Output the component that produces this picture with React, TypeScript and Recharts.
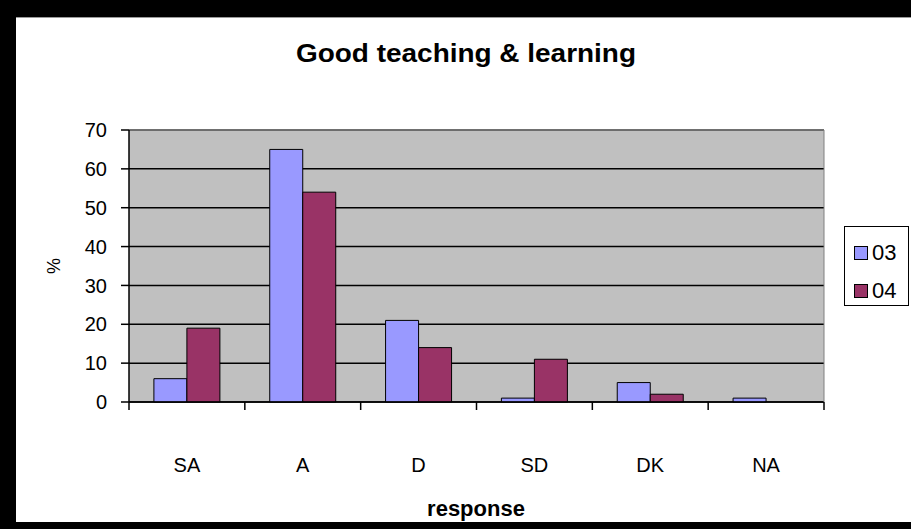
import React from 'react';
import { BarChart, Bar, XAxis, YAxis, CartesianGrid, ReferenceLine } from 'recharts';

const categories = ['SA', 'A', 'D', 'SD', 'DK', 'NA'];
const series03 = [6, 65, 21, 1, 5, 1];
const series04 = [19, 54, 14, 11, 2, 0];
const yTicks = [0, 10, 20, 30, 40, 50, 60, 70];
const seriesNames = ['03', '04'];
const seriesColors = ['#9999FF', '#993366'];
const titleText = 'Good teaching & learning';
const xLabel = 'response';
const yLabel = '%';

const data = categories.map((c, i) => ({ name: c, s03: series03[i], s04: series04[i] }));

const FONT = '"Liberation Sans", Arial, sans-serif';

function XTick(props: any) {
  const { x, y, payload, index, width } = props;
  const half = payload && typeof payload.offset === 'number' && payload.offset > 0
    ? payload.offset
    : width / categories.length / 2;
  const isLast = index === categories.length - 1;
  return (
    <g>
      <line x1={x - half} x2={x - half} y1={y - 8} y2={y} stroke="#000" strokeWidth={1.5} />
      {isLast && <line x1={x + half} x2={x + half} y1={y - 8} y2={y} stroke="#000" strokeWidth={1.5} />}
      <text x={x} y={y + 62} textAnchor="middle" fontSize={20} fontFamily={FONT} fill="#000">
        {payload.value}
      </text>
    </g>
  );
}

export default function App() {
  return (
    <div style={{ position: 'absolute', left: 0, top: 0, width: 911, height: 529, background: '#000', overflow: 'hidden' }}>
      <div style={{ position: 'absolute', left: 16, top: 17, width: 895, height: 505, background: '#fff', borderTop: '1px solid #9a9a9a', boxSizing: 'border-box' }} />
      <div style={{ position: 'absolute', left: 0, top: 0 }}>
        <BarChart
          width={911}
          height={529}
          data={data}
          margin={{ top: 130, right: 77, bottom: 67, left: 0 }}
          barCategoryGap="21.5%"
          barGap={0}
        >
          <CartesianGrid vertical={false} stroke="#000" strokeWidth={1.5} fill="#C0C0C0" fillOpacity={1} />
          <XAxis
            dataKey="name"
            height={60}
            tickSize={8}
            tickMargin={0}
            tickLine={false}
            axisLine={{ stroke: '#000', strokeWidth: 1.5 }}
            tick={<XTick />}
            interval={0}
          />
          <YAxis
            domain={[0, 70]}
            ticks={yTicks}
            width={129}
            tickSize={8}
            tickMargin={14}
            axisLine={{ stroke: '#000', strokeWidth: 1.5 }}
            tickLine={{ stroke: '#000', strokeWidth: 1.5 }}
            tick={{ fill: '#000', fontSize: 20, fontFamily: FONT }}
            interval={0}
          />
          <YAxis
            yAxisId="r"
            orientation="right"
            domain={[0, 70]}
            width={10}
            tick={false}
            tickLine={false}
            axisLine={{ stroke: '#808080', strokeWidth: 1 }}
          />
          <ReferenceLine y={70} stroke="#808080" strokeWidth={1.5} />
          <Bar dataKey="s03" name={seriesNames[0]} fill={seriesColors[0]} stroke="#000" strokeWidth={1} isAnimationActive={false} />
          <Bar dataKey="s04" name={seriesNames[1]} fill={seriesColors[1]} stroke="#000" strokeWidth={1} isAnimationActive={false} />
        </BarChart>
      </div>
      <svg width={911} height={529} style={{ position: 'absolute', left: 0, top: 0, pointerEvents: 'none' }}>
        <text x={466} y={62} textAnchor="middle" fontSize={26} fontWeight="bold" fontFamily={FONT} fill="#000" textLength={340} lengthAdjust="spacingAndGlyphs">
          {titleText}
        </text>
        <text x={476} y={516} textAnchor="middle" fontSize={22} fontWeight="bold" fontFamily={FONT} fill="#000">
          {xLabel}
        </text>
        <text x={54} y={266} textAnchor="middle" dominantBaseline="central" fontSize={18} fontFamily={FONT} fill="#000" transform="rotate(-90 54 266)">
          {yLabel}
        </text>
      </svg>
      <div style={{ position: 'absolute', left: 844, top: 226, width: 65, height: 80, border: '1px solid #000', background: '#fff', boxSizing: 'border-box', fontFamily: FONT, fontSize: 22 }}>
        {seriesNames.map((n, i) => (
          <div key={n} style={{ position: 'absolute', left: 9, top: 14 + i * 38, height: 24, display: 'flex', alignItems: 'center' }}>
            <div style={{ width: 14, height: 14, background: seriesColors[i], border: '1px solid #000', boxSizing: 'border-box', marginRight: 4 }} />
            <span style={{ lineHeight: '24px' }}>{n}</span>
          </div>
        ))}
      </div>
    </div>
  );
}
